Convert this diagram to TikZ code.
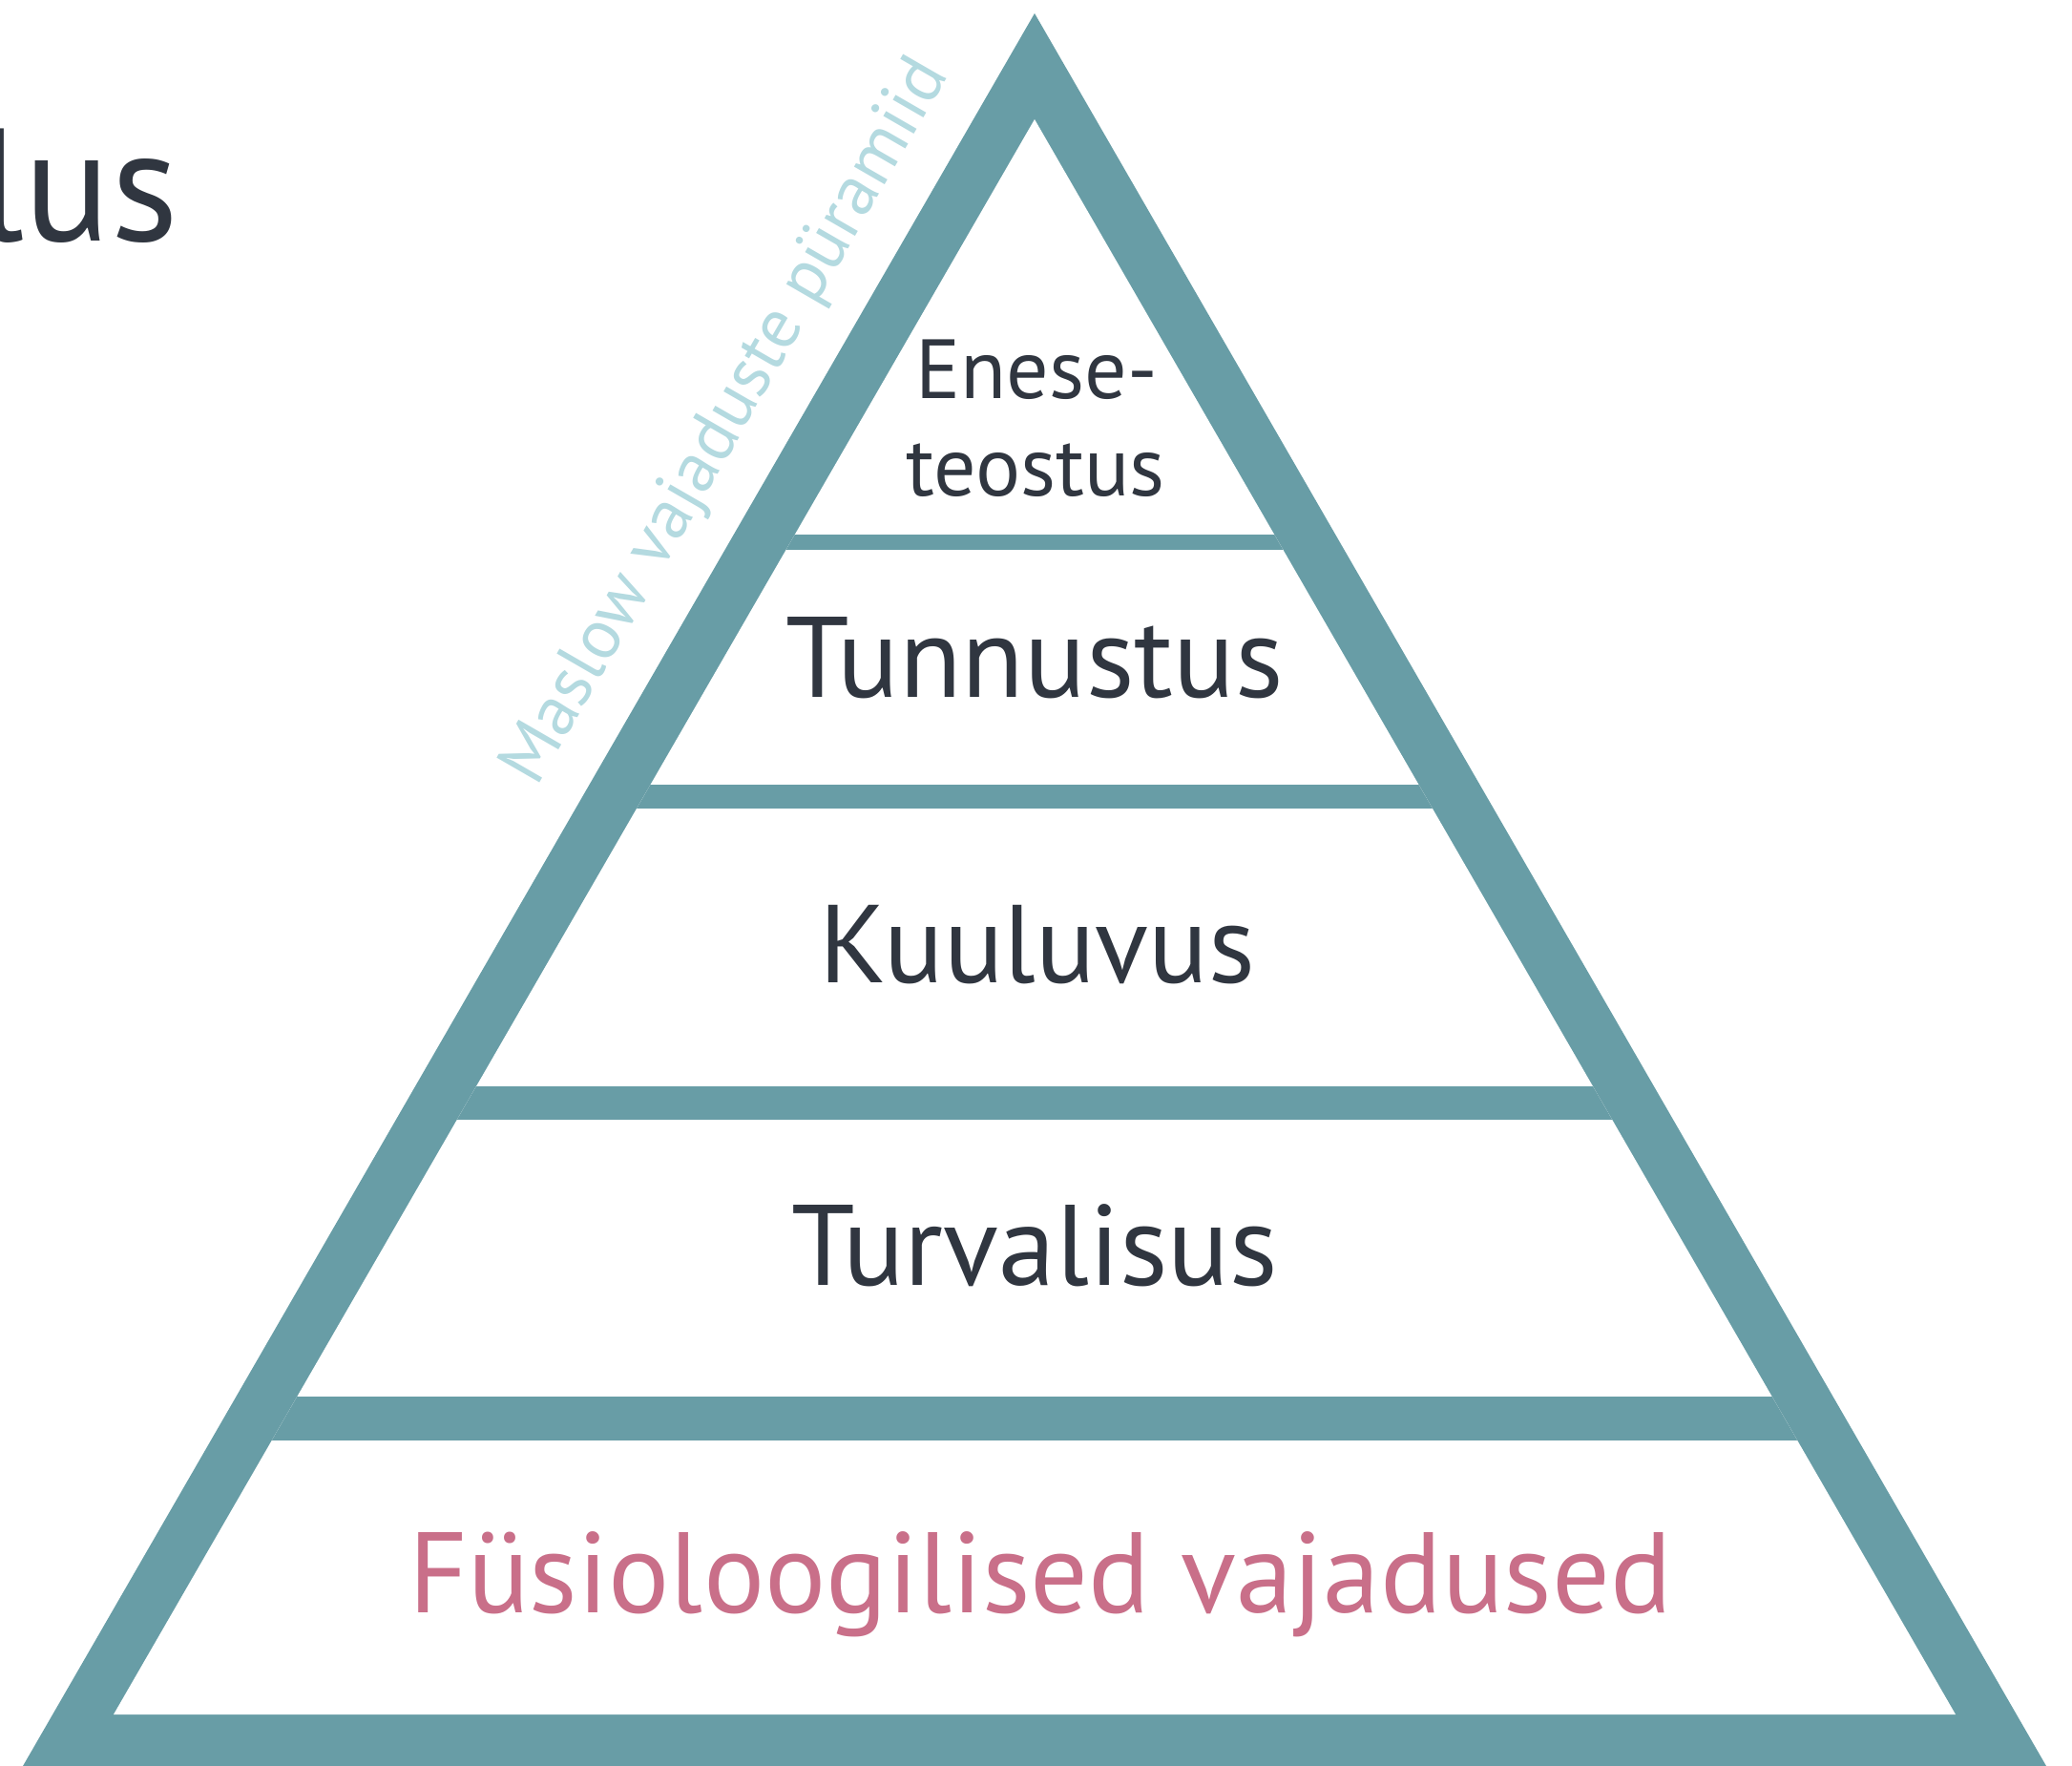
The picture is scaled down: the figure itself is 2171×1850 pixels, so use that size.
\documentclass[tikz,border=0pt]{standalone}
\usepackage{fontspec}
\setmainfont{PT Sans}
\usepackage{xcolor}
\usetikzlibrary{calc,positioning,backgrounds}

\definecolor{pyr_teal}{RGB}{104,157,166}
\definecolor{pyr_dark}{RGB}{48,54,64}
\definecolor{pyr_pink}{RGB}{201,111,137}
\definecolor{pyr_light}{RGB}{180,218,224}

\tikzset{
	level_text/.style={inner sep=0pt, anchor=base, text=pyr_dark, font=\fontsize{30}{36}\selectfont},
	band/.style={fill=pyr_teal}
}

\begin{document}

\begin{tikzpicture} [x=0.25pt,y=-0.25pt]
	 	
	 	\useasboundingbox (0,0) rectangle (2171,1850);
	 	
	 	\coordinate (top_out) at (1084,14);
	 	\coordinate (left_out) at (24,1850);
	 	\coordinate (right_out) at (2144,1850);
	 	
	 	\coordinate (top_in) at (1084,125);
	 	\coordinate (left_in) at (119,1796);
	 	\coordinate (right_in) at (2049,1796);
	 	
	 	
	 	\node (self_a) [level_text, font=\fontsize{22}{28}\selectfont] at (1086,418) {Enese-};
	 	
	 	\node (self_b) [level_text, font=\fontsize{22}{28}\selectfont] at (1085,519) {teostus};
	 	
	 	\node (esteem) [level_text] at (1084,730) {Tunnustus};
	 	
	 	\node (love) [level_text, font=\fontsize{29}{36}\selectfont] at (1087,1029) {Kuuluvus};
	 	
	 	\node (safety) [level_text] at (1084,1346) {Turvalisus};
	 	
	 	\node (body) [level_text, text=pyr_pink] at (1090,1689) {Füsioloogilised vajadused};
	 	
	 	\node (title) [inner sep=0pt, anchor=base east, text=pyr_dark, font=\fontsize{42}{50}\selectfont] at (188,253) {lus};
	 	
	 	\node (caption) [inner sep=0pt, anchor=base, rotate=60, text=pyr_light, font=\fontsize{18.5}{22}\selectfont] at (778,452) {Maslow vajaduste püramiid};
	 	
	 	
	 	\begin{pgfonlayer}{background}
	 	
	 	\fill [pyr_teal] (top_out) -- (left_out) -- (right_out) -- cycle;
	 	
	 	\fill [white] (top_in) -- (left_in) -- (right_in) -- cycle;
	 	
	 	\begin{scope}
	 	\clip (top_in) -- (left_in) -- (right_in) -- cycle;
	 	\foreach \ytop/\ybot in {560/576, 822/847, 1138/1173, 1463/1509}
	 	\fill [band] (0,\ytop) rectangle (2171,\ybot);
	 	\end{scope}
	 	
	 	\end{pgfonlayer}
	 	
\end{tikzpicture}

\end{document}
